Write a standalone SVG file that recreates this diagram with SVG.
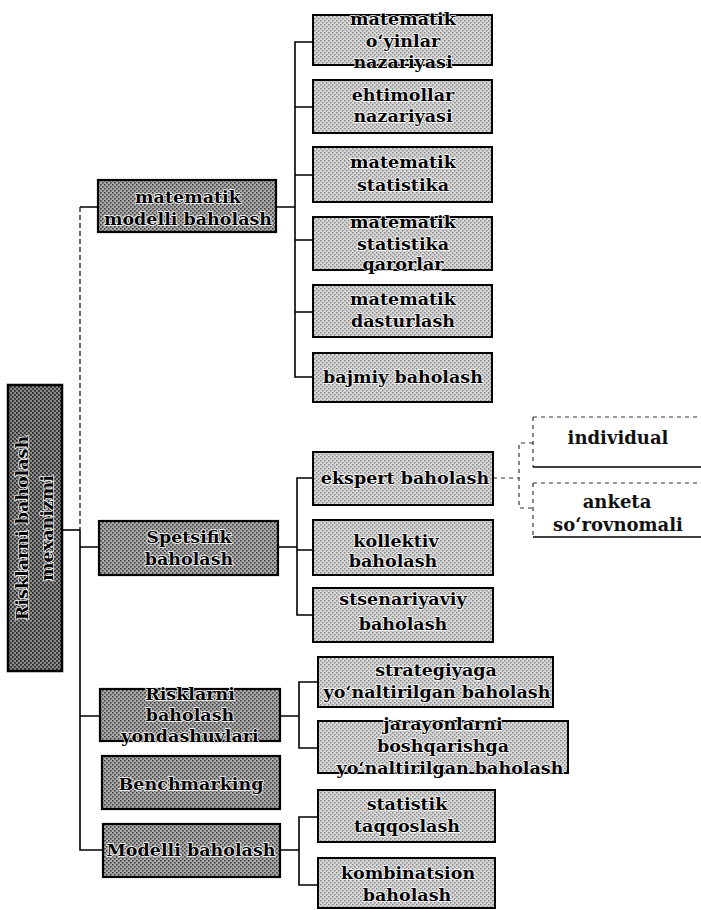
<svg xmlns="http://www.w3.org/2000/svg" width="701" height="910" viewBox="0 0 701 910">
<style>
.t{font-family:"DejaVu Serif","Liberation Serif",serif;font-weight:bold;font-size:17.5px;fill:#000;text-anchor:middle;stroke:#fff;stroke-width:1.6px;paint-order:stroke;stroke-linejoin:round}
.p{font-family:"DejaVu Serif","Liberation Serif",serif;font-weight:bold;font-size:18px;fill:#111;text-anchor:middle}
.b1{fill:url(#dk);stroke:#000;stroke-width:2.2}
.b2{fill:url(#lt);stroke:#000;stroke-width:2}
.rt{fill:url(#rk);stroke:#000;stroke-width:2.5}
.c{fill:none;stroke:#000;stroke-width:1.6}
.d{fill:none;stroke:#000;stroke-width:1.2;stroke-dasharray:5 3}
.o{fill:none;stroke:#333;stroke-width:1.2;stroke-dasharray:4 4}
</style>
<defs>
<pattern id="lt" width="4" height="4" patternUnits="userSpaceOnUse"><rect width="4" height="4" fill="#d6d6d6"/><rect width="1.5" height="1.5" fill="#8a8a8a"/><rect x="2" y="2" width="1.5" height="1.5" fill="#8a8a8a"/></pattern>
<pattern id="dk" width="4" height="4" patternUnits="userSpaceOnUse"><rect width="4" height="4" fill="#aaaaaa"/><rect width="1.6" height="1.6" fill="#404040"/><rect x="2" y="2" width="1.6" height="1.6" fill="#404040"/></pattern>
<pattern id="rk" width="4" height="4" patternUnits="userSpaceOnUse"><rect width="4" height="4" fill="#8c8c8c"/><rect width="1.8" height="1.8" fill="#2a2a2a"/><rect x="2" y="2" width="1.8" height="1.8" fill="#2a2a2a"/></pattern>
</defs>
<rect width="701" height="910" fill="#fff"/>

<g id="connectors">
<path class="c" d="M62,530 H80"/>
<path class="d" d="M80,207 V530"/>
<path class="c" d="M98,207 H80 M80,530 V850 H103 M80,547 H99 M80,716 H100"/>
<path class="c" d="M276,207 H295 M313,42 H295 V377 H313 M295,107 H313 M295,175 H313 M295,240 H313 M295,312 H313"/>
<path class="c" d="M278,547 H297 M313,478 H297 V615 H313 M297,550 H313"/>
<path class="o" d="M493,478 H519 M533,443 H519 V508 H533"/>
<path class="c" d="M280,716 H299 M318,682 H299 V748 H318"/>
<path class="c" d="M280,850 H299 M318,817 H299 V885 H318"/>
</g>

<g id="root">
<rect class="rt" x="8" y="385" width="54" height="286"/>
<g transform="translate(0,528) rotate(-90)">
<text class="t" x="0" y="28">Risklarni baholash</text>
<text class="t" x="0" y="53">mexanizmi</text>
</g>
</g>

<g id="n-matematik-modelli">
<rect class="b1" x="98" y="180" width="178" height="52"/>
<text class="t" x="188" y="203">matematik</text>
<text class="t" x="188" y="225">modelli baholash</text>
</g>
<g id="n-spetsifik">
<rect class="b1" x="99" y="521" width="179" height="54"/>
<text class="t" x="189" y="543">Spetsifik</text>
<text class="t" x="189" y="565">baholash</text>
</g>
<g id="n-yondashuvlari">
<rect class="b1" x="100" y="689" width="180" height="52"/>
<text class="t" x="190" y="700">Risklarni</text>
<text class="t" x="190" y="721">baholash</text>
<text class="t" x="190" y="742">yondashuvlari</text>
</g>
<g id="n-benchmarking">
<rect class="b1" x="102" y="756" width="178" height="53"/>
<text class="t" x="191" y="790">Benchmarking</text>
</g>
<g id="n-modelli">
<rect class="b1" x="103" y="824" width="177" height="53"/>
<text class="t" x="191" y="856">Modelli baholash</text>
</g>

<g id="n-oyinlar">
<rect class="b2" x="313" y="15" width="179" height="50"/>
<text class="t" x="403" y="25">matematik</text>
<text class="t" x="403" y="47">o‘yinlar</text>
<text class="t" x="403" y="68">nazariyasi</text>
</g>
<g id="n-ehtimollar">
<rect class="b2" x="313" y="80" width="179" height="53"/>
<text class="t" x="403" y="101">ehtimollar</text>
<text class="t" x="403" y="122">nazariyasi</text>
</g>
<g id="n-mat-stat">
<rect class="b2" x="313" y="147" width="179" height="55"/>
<text class="t" x="403" y="168">matematik</text>
<text class="t" x="403" y="191">statistika</text>
</g>
<g id="n-mat-stat-qar">
<rect class="b2" x="313" y="217" width="179" height="53"/>
<text class="t" x="403" y="228">matematik</text>
<text class="t" x="403" y="250">statistika</text>
<text class="t" x="403" y="270">qarorlar</text>
</g>
<g id="n-dasturlash">
<rect class="b2" x="313" y="285" width="179" height="52"/>
<text class="t" x="403" y="305">matematik</text>
<text class="t" x="403" y="327">dasturlash</text>
</g>
<g id="n-bajmiy">
<rect class="b2" x="313" y="353" width="179" height="49"/>
<text class="t" x="403" y="383">bajmiy baholash</text>
</g>

<g id="n-ekspert">
<rect class="b2" x="313" y="452" width="180" height="53"/>
<text class="t" x="405" y="484">ekspert baholash</text>
</g>
<g id="n-kollektiv">
<rect class="b2" x="313" y="520" width="180" height="55"/>
<text class="t" x="396" y="547">kollektiv</text>
<text class="t" x="393" y="567">baholash</text>
</g>
<g id="n-stsenariyaviy">
<rect class="b2" x="313" y="588" width="180" height="54"/>
<text class="t" x="403" y="605">stsenariyaviy</text>
<text class="t" x="403" y="630">baholash</text>
</g>

<g id="n-individual">
<path class="o" d="M533,417 H701 M533,417 V467"/>
<path class="c" d="M533,467 H701" style="stroke-width:1.3"/>
<text class="p" x="618" y="444">individual</text>
</g>
<g id="n-anketa">
<path class="o" d="M533,483 H701 M533,483 V537"/>
<path class="c" d="M533,537 H701" style="stroke-width:1.3"/>
<text class="p" x="617" y="508">anketa</text>
<text class="p" x="618" y="531">so‘rovnomali</text>
</g>

<g id="n-strategiyaga">
<rect class="b2" x="318" y="657" width="235" height="50"/>
<text class="t" x="436" y="676">strategiyaga</text>
<text class="t" x="437" y="698">yo‘naltirilgan baholash</text>
</g>
<g id="n-jarayonlarni">
<rect class="b2" x="318" y="721" width="250" height="52"/>
<text class="t" x="443" y="730">jarayonlarni</text>
<text class="t" x="443" y="752">boshqarishga</text>
<text class="t" x="450" y="774">yo‘naltirilgan baholash</text>
</g>
<g id="n-statistik">
<rect class="b2" x="318" y="790" width="177" height="52"/>
<text class="t" x="407" y="810">statistik</text>
<text class="t" x="407" y="832">taqqoslash</text>
</g>
<g id="n-kombinatsion">
<rect class="b2" x="318" y="858" width="177" height="50"/>
<text class="t" x="408" y="879">kombinatsion</text>
<text class="t" x="407" y="901">baholash</text>
</g>
</svg>
